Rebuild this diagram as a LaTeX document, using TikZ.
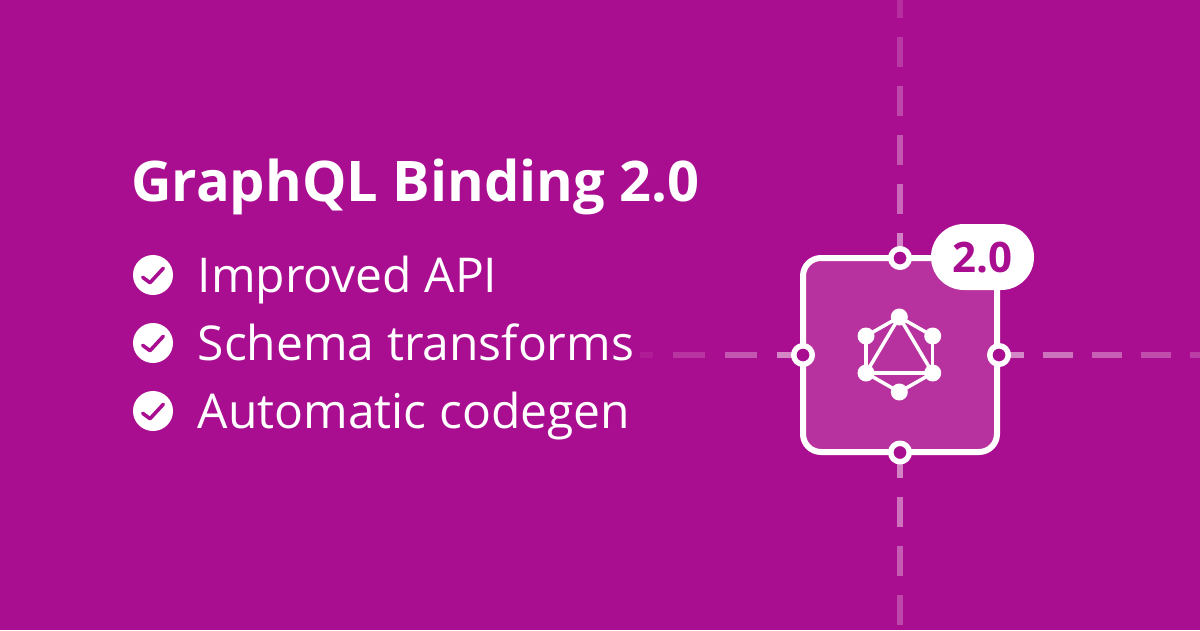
\documentclass[tikz,border=0pt]{standalone}
\usepackage{fontspec}
\setmainfont{Open Sans}
\definecolor{bgpurple}{HTML}{AA0E90}
\definecolor{cardfill}{HTML}{B8329F}
\begin{document}
\begin{tikzpicture}[x = 1pt, y = -1pt, line join = round]
        \tikzset{
          titletext/.style = {anchor = base west, inner sep = 0pt, text = white, font = \fontsize{56}{56}\selectfont\bfseries},
          itemtext/.style = {anchor = base west, inner sep = 0pt, text = white, font = \fontsize{48}{48}\selectfont},
          tick/.style = {shape = circle, fill = white, minimum size = 40pt, inner sep = 0pt},
          port/.style = {shape = circle, draw = white, line width = 5.5pt, fill = bgpurple, minimum size = 18.5pt, inner sep = 0pt},
          dot/.style = {shape = circle, fill = white, minimum size = 17pt, inner sep = 0pt},
          edge/.style = {draw = white, line width = 3.5pt}
        }
        \useasboundingbox (0, 0) rectangle (1200, 630);
        \clip (0, 0) rectangle (1200, 630);
        \fill[bgpurple] (0, 0) rectangle (1200, 630);
        % dashes
        \foreach \ya/\op in {-12/0.13, 37/0.18, 86/0.24, 135/0.3, 184/0.38, 233/0.48} {
          \fill[white, opacity = \op] (897, \ya) rectangle (903, \ya + 30);
        }
        \foreach \ya/\op in {448/0.48, 497/0.42, 546/0.32, 595/0.24} {
          \fill[white, opacity = \op] (897, \ya) rectangle (903, \ya + 30);
        }
        \foreach \xa/\wd/\op in {640/13/0.06, 673/32/0.16, 725/32/0.3, 777/32/0.5} {
          \fill[white, opacity = \op] (\xa, 352) rectangle (\xa + \wd, 358);
        }
        \foreach \xa/\op in {994/0.5, 1043/0.42, 1092/0.34, 1141/0.26, 1190/0.2} {
          \fill[white, opacity = \op] (\xa, 352) rectangle (\xa + 30, 358);
        }
        % card
        \draw[white, line width = 6pt, fill = cardfill, rounded corners = 18pt] (803, 258) rectangle (997, 452);
        \node[port] (P-top) at (900, 258) {};
        \node[port] (P-bot) at (900, 452.5) {};
        \node[port] (P-left) at (803, 355) {};
        \node[port] (P-right) at (999, 355) {};
        \node[shape = rectangle, rounded corners = 32.9pt, fill = white, minimum width = 103pt, minimum height = 66pt, inner sep = 0pt] (B-pill) at (982.5, 257) {};
        \node[text = bgpurple, font = \fontsize{42}{42}\selectfont\bfseries, inner sep = 0pt, anchor = base] (B-text) at (982.5, 272) {2.0};
        % logo
        \node[dot] (L-1) at (899.3, 317) {};
        \node[dot] (L-2) at (932.7, 336) {};
        \node[dot] (L-3) at (932.7, 373) {};
        \node[dot] (L-4) at (899.3, 392) {};
        \node[dot] (L-5) at (866, 373) {};
        \node[dot] (L-6) at (866, 336) {};
        \foreach \a/\b in {1/2, 2/3, 3/4, 4/5, 5/6, 6/1, 1/3, 3/5, 5/1} {
          \draw[edge] (L-\a.center) -- (L-\b.center);
        }
        % text
        \node[titletext] (T-main) at (131, 201) {GraphQL Binding 2.0};
        \node[itemtext] (T-1) at (197.5, 292) {Improved API};
        \node[itemtext] (T-2) at (197.5, 360) {Schema transforms};
        \node[itemtext] (T-3) at (197.5, 428) {Automatic codegen};
        \foreach \yc/\nm in {275/A, 343/B, 411/C} {
          \node[tick] (C-\nm) at (153, \yc) {};
          \draw[bgpurple, line width = 3.6pt, line cap = round] (142.7, \yc + 2.3) -- (150, \yc + 7.7) -- (163.3, \yc - 6.7);
        }
      \end{tikzpicture}
\end{document}
